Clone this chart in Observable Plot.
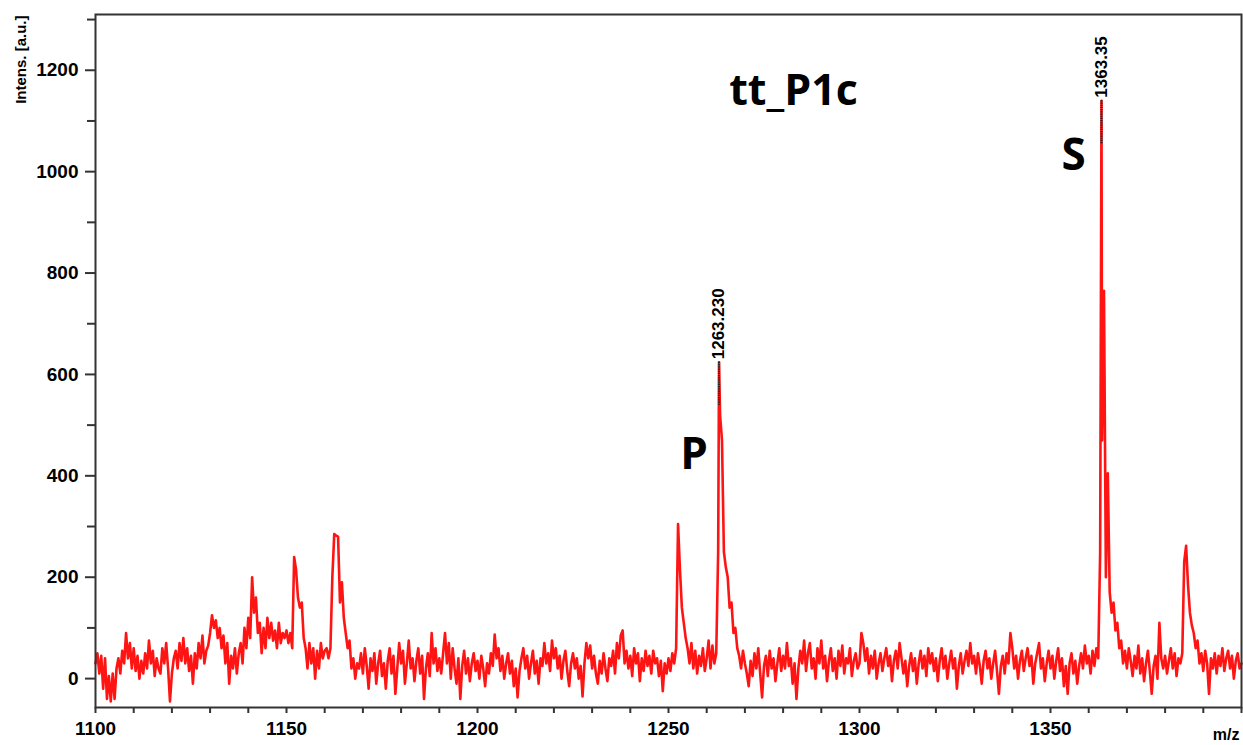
<!DOCTYPE html>
<html>
<head>
<meta charset="utf-8">
<script src="https://cdn.jsdelivr.net/npm/d3@7"></script>
<script src="https://cdn.jsdelivr.net/npm/@observablehq/plot@0.6"></script>
<style>
  html, body { margin: 0; padding: 0; background: #fff; }
  #chart { width: 1243px; height: 745px; }
</style>
</head>
<body>
<div id="chart"></div>
<script>
// MALDI spectrum tt_P1c: intensities sampled every 0.5 m/z from 1100 to 1400
const mzStart = 1100;
const mzStep = 0.5;
const intensity = [
  // 1100
  30, 50, 10, 45, -20, 40, -40, 5, -45, 10, -40, 20, 40, 10, 55, 30, 90, 40, 70, 20,
  // 1110
  60, 15, 45, 0, 35, 10, 50, 20, 75, 30, 55, 5, 40, 20, 10, 60, 30, 70, 20, -45,
  // 1120
  10, 40, 55, 20, 70, 35, 80, 30, 60, 15, 45, -10, 50, 20, 70, 40, 85, 30, 55, 65,
  // 1130
  90, 125, 100, 115, 80, 100, 60, 85, 30, 70, -10, 45, 20, 60, 10, 50, 70, 30, 100, 60,
  // 1140
  120, 80, 200, 130, 160, 90, 110, 50, 100, 60, 120, 80, 110, 75, 95, 60, 110, 70, 90, 80,
  // 1150
  95, 70, 90, 60, 240, 215, 160, 140, 150, 80, 60, 20, 70, 30, 60, 0, 55, 20, 70, 40,
  // 1160
  55, 60, 40, 60, 200, 285, 282, 280, 150, 190, 120, 90, 60, 75, 20, 40, 0, 30, 20, 50,
  // 1170
  10, 60, 25, -20, 40, 15, 50, -10, 30, 55, 5, 30, -20, 35, 60, 10, 45, -30, 20, 70,
  // 1180
  30, 55, -10, 30, 75, 20, 40, -5, 35, 60, 10, 45, -40, 20, 50, 5, 90, 30, 60, 15,
  // 1190
  40, 10, 50, 90, 30, 70, 0, 60, 20, -10, 40, -40, 25, 55, 10, 40, -5, 30, 50, 15,
  // 1200
  35, 0, 45, 20, -15, 30, 10, 50, 25, 87, 40, 60, 15, 45, 0, 30, 50, 10, 35, -15,
  // 1210
  20, -37, 15, 40, 60, 20, 45, 0, 30, 55, 10, 35, -10, 40, 25, 70, 30, 50, 15, 75,
  // 1220
  40, 60, 20, 45, 0, 35, 55, 15, -15, 30, 50, 20, 40, 0, 25, -35, 30, 70, 40, 65,
  // 1230
  20, 45, 10, -10, 35, 10, 50, 20, -5, 40, 25, 55, 10, 70, 40, 85, 95, 30, 55, 20,
  // 1240
  45, 5, 60, 30, 50, -5, 40, 15, 55, 25, 45, 10, 55, 30, 40, 5, 35, -25, 30, 10,
  // 1250
  40, 15, 50, 30, 60, 305, 215, 140, 110, 80, 60, 30, 70, 20, 55, 10, 45, 25, 60, 15,
  // 1260
  40, 75, 20, 65, 30, 50, 250, 520, 470, 250, 220, 200, 140, 150, 90, 100, 60, 45, 20, 55,
  // 1270
  30, 10, -15, 35, 5, 50, 20, 60, 10, -37, 25, 45, 5, 55, 20, 40, -5, 30, 60, 15,
  // 1280
  45, 20, 70, 25, 40, -10, 30, -40, 20, 55, 30, 75, 15, 50, 70, 20, 40, 0, 60, 30,
  // 1290
  75, 20, 45, -5, 35, 60, 15, 40, 0, 55, 25, 65, 10, 40, 30, 60, 5, 35, 50, 20,
  // 1300
  30, 90, 70, 35, 60, 10, 45, 20, 55, 0, 30, 50, 15, 40, 60, 25, 45, -5, 35, 55,
  // 1310
  20, 70, 40, 10, 35, -15, 25, 50, 15, 40, -10, 30, 55, 20, 45, 5, 60, 30, 50, 15,
  // 1320
  40, -5, 35, 60, 20, 45, 0, 30, 55, 20, 40, -20, 25, 50, 10, 35, 55, 25, 70, 30,
  // 1330
  45, 10, 50, 25, -10, 35, 55, 20, 40, 0, 30, 55, 15, -30, 25, 45, 10, 50, 30, 90,
  // 1340
  60, 20, 45, 0, 35, 55, 15, 40, 60, 25, 45, -10, 30, 50, 70, 20, 40, -5, 30, 55,
  // 1350
  20, 45, 0, 35, 60, 15, 40, -15, 25, -30, 30, 50, 10, 35, -10, 25, 50, 20, 65, 30,
  // 1360
  45, 10, 55, 25, 60, 40, 250, 470, 765, 200, 405, 170, 130, 150, 95, 110, 60, 75, 30, 55,
  // 1370
  20, 60, 35, 5, 45, 20, 65, 10, 40, -5, 30, 55, 15, -30, 25, 45, 0, 110, 40, 20,
  // 1380
  45, 10, 35, 60, 20, 50, 5, 40, 30, 50, 230, 262, 185, 130, 105, 90, 60, 75, 30, 50,
  // 1390
  15, 55, 30, -30, 40, 20, 50, 10, 45, 25, 60, 15, 40, 55, 20, 45, 0, 35, 50, 20,
  // 1400
  30
];

// Labelled peak apexes
const peaks = [
  { name: "P", mz: 1263.230, intensity: 624, label: "1263.230" },
  { name: "S", mz: 1363.35, intensity: 1140, label: "1363.35" }
];

// Axis ticks
const xTicks = [1100, 1150, 1200, 1250, 1300, 1350];
const xMinorTicks = [1110, 1120, 1130, 1140, 1160, 1170, 1180, 1190, 1210, 1220, 1230, 1240,
  1260, 1270, 1280, 1290, 1310, 1320, 1330, 1340, 1360, 1370, 1380, 1390, 1400];
const yTicks = [0, 200, 400, 600, 800, 1000, 1200];
const yMinorTicks = [100, 300, 500, 700, 900, 1100, 1300];

const title = "tt_P1c";
const yLabel = "Intens. [a.u.]";
const xLabel = "m/z";

// Spectrum points: the sampled grid plus the labelled apexes, in m/z order
const spectrum = intensity
  .map((v, i) => ({ mz: mzStart + i * mzStep, intensity: v }))
  .concat(peaks.map(p => ({ mz: p.mz, intensity: p.intensity })))
  .sort((a, b) => a.mz - b.mz);

const axisColor = "#333";
const sans = "'Liberation Sans', Arial, sans-serif";
const bigSans = "'Open Sans', 'Noto Sans', sans-serif";
const plain = d => String(d);

const chart = Plot.plot({
  width: 1243,
  height: 745,
  marginLeft: 95,
  marginRight: 2,
  marginTop: 14,
  marginBottom: 38,
  x: { domain: [1100, 1400], label: null },
  y: { domain: [-57, 1310], label: null },
  style: { fontFamily: sans, background: "#fff", color: "#000" },
  marks: [
    Plot.line(spectrum, { x: "mz", y: "intensity", stroke: "#ff1414", strokeWidth: 2.6 }),
    // dotted black marker on the top of each labelled peak
    Plot.ruleX(peaks, {
      x: "mz", y1: d => d.intensity - 85, y2: "intensity",
      stroke: "#222", strokeWidth: 2.2, strokeDasharray: "1.2,1"
    }),
    Plot.text(peaks, {
      x: "mz", y: "intensity", text: "label", rotate: -90,
      textAnchor: "start", lineAnchor: "middle", dy: -3,
      fontSize: 17, fontWeight: "bold", fill: "#000"
    }),
    Plot.text([peaks[0]], {
      x: "mz", y: "intensity", text: "name", dx: -25, dy: 93,
      fontSize: 44, fontWeight: "bold", fontFamily: bigSans, fill: "#000"
    }),
    Plot.text([peaks[1]], {
      x: "mz", y: "intensity", text: "name", dx: -28, dy: 55,
      fontSize: 44, fontWeight: "bold", fontFamily: bigSans, fill: "#000"
    }),
    Plot.text([title], {
      frameAnchor: "top-left", dx: 698, dy: 77, textAnchor: "middle", lineAnchor: "middle",
      fontSize: 43, fontWeight: "bold", fontFamily: bigSans, fill: "#000"
    }),
    Plot.text([yLabel], {
      frameAnchor: "top-left", rotate: -90, textAnchor: "end", lineAnchor: "middle",
      dx: -74, dy: 1, fontSize: 15, fontWeight: "bold", fill: "#000"
    }),
    Plot.text([xLabel], {
      frameAnchor: "bottom-right", textAnchor: "end", lineAnchor: "middle",
      dx: -2, dy: 27, fontSize: 16, fontWeight: "bold", fill: "#000"
    }),
    Plot.axisY({
      ticks: yTicks, tickSize: 10, tickPadding: 7, label: null, tickFormat: plain,
      fontSize: 19, fontWeight: "bold", stroke: axisColor, strokeWidth: 2
    }),
    Plot.axisY({
      ticks: yMinorTicks, tickSize: 8, label: null, tickFormat: () => "",
      stroke: axisColor, strokeWidth: 2
    }),
    Plot.axisX({
      ticks: xTicks, tickSize: 6, tickPadding: 8, label: null, tickFormat: plain,
      fontSize: 19, fontWeight: "bold", stroke: axisColor, strokeWidth: 2
    }),
    Plot.axisX({
      ticks: xMinorTicks, tickSize: 6, label: null, tickFormat: () => "",
      stroke: axisColor, strokeWidth: 2
    }),
    Plot.frame({ stroke: axisColor, strokeWidth: 2 })
  ]
});

document.getElementById("chart").appendChild(chart);
</script>
</body>
</html>
